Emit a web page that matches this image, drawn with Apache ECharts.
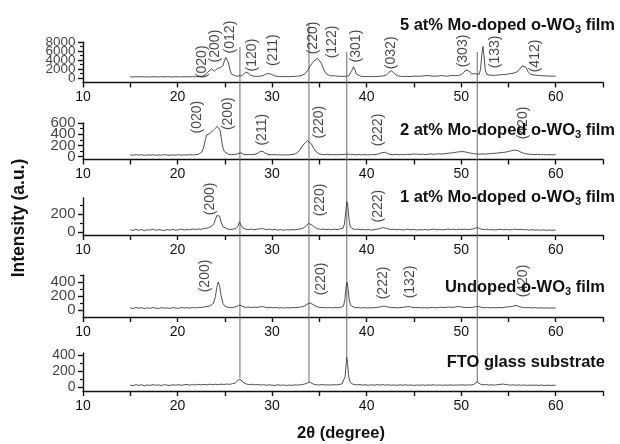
<!DOCTYPE html>
<html>
<head>
<meta charset="utf-8">
<script src="https://cdn.jsdelivr.net/npm/echarts@6/dist/echarts.min.js"></script>
<style>
  html, body { margin: 0; padding: 0; background: #fff; }
  #chart { width: 620px; height: 444px; }
</style>
</head>
<body>
<div id="chart"></div>
<script>
// ---- XRD patterns: [2θ (degree), intensity (a.u.)] ----
const mo5Pattern = [[15.0,260],[15.3,220],[15.6,280],[15.9,240],[16.2,300],[16.5,230],[16.8,270],[17.1,210],[17.4,290],[17.7,250],[18.0,230],[18.3,280],[18.6,240],[18.9,300],[19.2,250],[19.5,220],[19.8,290],[20.1,260],[20.4,240],[20.7,300],[21.0,270],[21.3,250],[21.6,300],[21.9,280],[22.2,340],[22.5,380],[22.8,520],[23.0,800],[23.2,1300],[23.4,1700],[23.6,2000],[23.75,1900],[23.9,1500],[24.05,1700],[24.2,2100],[24.35,1800],[24.5,2300],[24.65,2000],[24.8,2700],[24.95,3800],[25.1,4600],[25.25,4500],[25.4,3300],[25.55,1800],[25.7,900],[25.9,550],[26.2,420],[26.5,450],[26.8,520],[27.0,800],[27.2,1300],[27.35,1450],[27.5,1100],[27.7,650],[28.0,420],[28.3,360],[28.6,380],[28.9,450],[29.2,700],[29.5,1000],[29.7,1050],[29.9,850],[30.2,520],[30.5,380],[30.8,320],[31.1,300],[31.4,330],[31.7,290],[32.0,320],[32.3,350],[32.6,380],[32.9,450],[33.2,600],[33.5,1000],[33.8,1800],[34.0,2500],[34.2,3200],[34.4,3700],[34.6,4100],[34.8,4400],[35.0,4200],[35.2,3300],[35.4,2200],[35.6,1300],[35.8,800],[36.0,550],[36.2,480],[36.4,600],[36.6,500],[36.9,420],[37.2,380],[37.5,360],[37.8,380],[38.1,450],[38.3,800],[38.45,1700],[38.6,2500],[38.75,1900],[38.9,900],[39.1,500],[39.4,380],[39.7,340],[40.0,320],[40.3,350],[40.6,300],[40.9,330],[41.2,360],[41.5,400],[41.8,480],[42.1,700],[42.35,1200],[42.6,1600],[42.85,1200],[43.1,650],[43.4,420],[43.7,360],[44.0,330],[44.3,350],[44.6,320],[44.9,380],[45.2,420],[45.5,380],[45.8,420],[46.1,500],[46.4,560],[46.7,480],[47.0,420],[47.3,400],[47.6,450],[47.9,550],[48.2,450],[48.5,420],[48.8,480],[49.1,600],[49.4,500],[49.7,560],[50.0,750],[50.25,1200],[50.5,1800],[50.7,2100],[50.9,1500],[51.1,900],[51.3,800],[51.5,950],[51.7,750],[51.9,800],[52.05,2000],[52.2,5500],[52.3,7000],[52.4,5200],[52.55,1800],[52.7,800],[52.9,620],[53.2,580],[53.5,600],[53.8,650],[54.1,700],[54.4,750],[54.7,800],[55.0,900],[55.3,1000],[55.6,1100],[55.9,1400],[56.2,2000],[56.45,2700],[56.65,2900],[56.85,2400],[57.05,1500],[57.3,900],[57.6,700],[57.9,620],[58.2,560],[58.5,520],[58.8,480],[59.1,450],[59.4,420],[59.7,400],[60.0,390]];

const mo2Pattern = [[15.0,32],[15.3,25],[15.6,38],[15.9,28],[16.2,35],[16.5,22],[16.8,33],[17.1,27],[17.4,36],[17.7,24],[18.0,31],[18.3,26],[18.6,37],[18.9,29],[19.2,23],[19.5,34],[19.8,27],[20.1,36],[20.4,25],[20.7,32],[21.0,28],[21.3,38],[21.6,30],[21.9,36],[22.2,42],[22.4,55],[22.6,90],[22.8,190],[22.95,310],[23.1,390],[23.25,360],[23.4,410],[23.5,380],[23.65,450],[23.8,420],[23.9,490],[24.05,470],[24.2,540],[24.35,560],[24.5,470],[24.65,300],[24.8,160],[24.95,90],[25.1,60],[25.4,42],[25.7,36],[26.0,40],[26.3,48],[26.5,62],[26.65,72],[26.8,52],[27.0,40],[27.3,34],[27.6,40],[27.9,36],[28.2,44],[28.5,62],[28.75,95],[28.9,105],[29.05,90],[29.3,58],[29.6,40],[29.9,33],[30.2,38],[30.5,30],[30.8,35],[31.1,28],[31.4,34],[31.7,30],[32.0,38],[32.3,44],[32.6,62],[32.9,110],[33.2,190],[33.5,250],[33.75,285],[33.95,275],[34.15,230],[34.4,150],[34.7,80],[35.0,50],[35.3,40],[35.6,36],[35.9,42],[36.2,34],[36.5,38],[36.8,33],[37.1,40],[37.4,36],[37.7,42],[37.9,68],[38.05,45],[38.3,36],[38.6,40],[38.9,33],[39.2,38],[39.5,32],[39.8,37],[40.1,30],[40.4,38],[40.7,35],[41.0,42],[41.3,50],[41.6,72],[41.8,92],[42.0,78],[42.25,52],[42.5,40],[42.8,36],[43.1,42],[43.4,34],[43.7,40],[44.0,35],[44.3,44],[44.6,38],[44.9,48],[45.1,58],[45.3,45],[45.6,40],[45.9,46],[46.2,38],[46.5,44],[46.8,50],[47.1,42],[47.4,48],[47.7,52],[48.0,46],[48.3,55],[48.6,60],[48.9,66],[49.2,72],[49.5,80],[49.8,88],[50.0,95],[50.2,90],[50.5,82],[50.8,70],[51.1,60],[51.4,52],[51.7,48],[52.0,44],[52.3,50],[52.6,46],[52.9,52],[53.2,56],[53.5,60],[53.8,64],[54.1,70],[54.4,76],[54.7,82],[55.0,92],[55.3,105],[55.6,118],[55.8,122],[56.0,108],[56.3,82],[56.6,62],[56.9,50],[57.2,44],[57.5,40],[57.8,36],[58.1,42],[58.4,35],[58.7,39],[59.0,33],[59.3,38],[59.6,32],[60.0,36]];

const mo1Pattern = [[15.0,28],[15.3,20],[15.6,33],[15.9,22],[16.2,30],[16.5,18],[16.8,29],[17.1,24],[17.4,35],[17.7,21],[18.0,30],[18.3,25],[18.6,19],[18.9,31],[19.2,24],[19.5,33],[19.8,22],[20.1,29],[20.4,36],[20.7,25],[21.0,31],[21.3,27],[21.6,37],[21.9,30],[22.2,38],[22.5,33],[22.8,42],[23.1,45],[23.4,55],[23.6,62],[23.8,85],[24.0,140],[24.15,185],[24.3,205],[24.45,180],[24.6,115],[24.8,62],[25.0,44],[25.3,36],[25.6,30],[25.9,35],[26.2,42],[26.4,70],[26.55,115],[26.7,82],[26.9,48],[27.2,35],[27.5,30],[27.8,36],[28.1,28],[28.4,34],[28.7,40],[28.9,55],[29.1,38],[29.4,30],[29.7,35],[30.0,26],[30.3,32],[30.6,24],[30.9,30],[31.2,22],[31.5,29],[31.8,25],[32.1,31],[32.4,27],[32.7,34],[33.0,38],[33.3,48],[33.6,70],[33.85,98],[34.05,104],[34.25,80],[34.5,55],[34.8,40],[35.1,32],[35.4,36],[35.7,30],[36.0,34],[36.3,28],[36.6,35],[36.9,30],[37.2,38],[37.5,45],[37.65,90],[37.8,230],[37.9,340],[38.0,300],[38.12,160],[38.25,70],[38.45,42],[38.7,32],[39.0,36],[39.3,28],[39.6,33],[39.9,26],[40.2,31],[40.5,24],[40.8,30],[41.1,35],[41.4,40],[41.65,52],[41.85,58],[42.05,45],[42.3,36],[42.6,30],[42.9,34],[43.2,27],[43.5,32],[43.8,25],[44.1,30],[44.4,34],[44.7,27],[45.0,31],[45.3,24],[45.6,30],[45.9,26],[46.2,32],[46.5,25],[46.8,30],[47.1,35],[47.4,27],[47.7,32],[48.0,26],[48.3,31],[48.6,36],[48.9,30],[49.2,34],[49.5,28],[49.8,35],[50.1,30],[50.4,36],[50.7,29],[51.0,33],[51.3,38],[51.55,50],[51.7,62],[51.85,48],[52.1,36],[52.4,30],[52.7,34],[53.0,27],[53.3,31],[53.6,25],[53.9,30],[54.2,34],[54.5,28],[54.8,32],[55.1,26],[55.4,31],[55.7,35],[56.0,29],[56.3,33],[56.6,27],[56.9,30],[57.2,24],[57.5,29],[57.8,23],[58.1,28],[58.4,22],[58.7,27],[59.0,21],[59.3,26],[59.6,22],[60.0,25]];

const undopedPattern = [[15.0,30],[15.3,22],[15.6,35],[15.9,26],[16.2,32],[16.5,21],[16.8,31],[17.1,25],[17.4,34],[17.7,27],[18.0,22],[18.3,33],[18.6,26],[18.9,30],[19.2,23],[19.5,34],[19.8,28],[20.1,24],[20.4,35],[20.7,29],[21.0,33],[21.3,26],[21.6,36],[21.9,30],[22.2,38],[22.5,34],[22.8,44],[23.1,48],[23.4,58],[23.6,64],[23.8,95],[24.0,190],[24.15,320],[24.3,400],[24.45,350],[24.6,210],[24.8,95],[25.0,55],[25.3,40],[25.6,34],[25.9,38],[26.2,46],[26.45,68],[26.6,88],[26.75,62],[26.95,44],[27.2,36],[27.5,42],[27.8,35],[28.1,40],[28.4,36],[28.7,44],[28.95,50],[29.2,40],[29.5,34],[29.8,38],[30.1,31],[30.4,36],[30.7,29],[31.0,34],[31.3,28],[31.6,33],[31.9,30],[32.2,36],[32.5,32],[32.8,38],[33.1,44],[33.4,56],[33.7,80],[33.95,102],[34.15,100],[34.4,75],[34.65,52],[34.9,40],[35.2,34],[35.5,38],[35.8,31],[36.1,36],[36.4,30],[36.7,35],[37.0,32],[37.3,40],[37.55,55],[37.7,150],[37.82,330],[37.92,400],[38.02,320],[38.15,150],[38.3,65],[38.5,40],[38.8,32],[39.1,36],[39.4,29],[39.7,34],[40.0,28],[40.3,33],[40.6,30],[40.9,36],[41.2,38],[41.5,46],[41.8,56],[42.05,50],[42.3,40],[42.6,33],[42.9,37],[43.2,30],[43.5,35],[43.8,38],[44.1,42],[44.4,50],[44.65,45],[44.9,36],[45.2,32],[45.5,37],[45.8,30],[46.1,35],[46.4,29],[46.7,33],[47.0,38],[47.3,31],[47.6,36],[47.9,40],[48.2,34],[48.5,38],[48.8,42],[49.1,37],[49.4,44],[49.7,50],[50.0,45],[50.3,38],[50.6,34],[50.9,38],[51.2,36],[51.5,48],[51.7,64],[51.9,46],[52.2,36],[52.5,32],[52.8,36],[53.1,30],[53.4,35],[53.7,31],[54.0,36],[54.3,33],[54.6,40],[54.9,44],[55.2,48],[55.5,55],[55.8,65],[56.05,52],[56.3,42],[56.6,36],[56.9,32],[57.2,36],[57.5,29],[57.8,34],[58.1,28],[58.4,32],[58.7,27],[59.0,31],[59.3,26],[59.6,30],[60.0,28]];

const ftoPattern = [[15.0,25],[15.3,18],[15.6,30],[15.9,22],[16.2,28],[16.5,16],[16.8,27],[17.1,20],[17.4,31],[17.7,22],[18.0,27],[18.3,18],[18.6,30],[18.9,24],[19.2,20],[19.5,29],[19.8,23],[20.1,31],[20.4,22],[20.7,28],[21.0,33],[21.3,24],[21.6,31],[21.9,26],[22.2,34],[22.5,27],[22.8,33],[23.1,28],[23.4,36],[23.7,30],[24.0,35],[24.3,29],[24.6,37],[24.9,32],[25.2,38],[25.5,34],[25.8,42],[26.1,50],[26.3,66],[26.48,95],[26.6,110],[26.72,90],[26.9,60],[27.1,44],[27.3,37],[27.6,31],[27.9,35],[28.2,27],[28.5,32],[28.8,25],[29.1,30],[29.4,22],[29.7,28],[30.0,24],[30.3,20],[30.6,28],[30.9,23],[31.2,26],[31.5,19],[31.8,25],[32.1,21],[32.4,28],[32.7,24],[33.0,30],[33.3,34],[33.6,44],[33.8,56],[33.95,62],[34.15,48],[34.4,36],[34.7,29],[35.0,26],[35.3,31],[35.6,25],[35.9,29],[36.2,24],[36.5,30],[36.8,27],[37.1,33],[37.4,40],[37.6,62],[37.72,130],[37.82,270],[37.9,380],[37.98,300],[38.08,160],[38.2,75],[38.4,42],[38.7,31],[39.0,27],[39.3,32],[39.6,24],[39.9,29],[40.2,22],[40.5,28],[40.8,23],[41.1,30],[41.4,25],[41.7,31],[42.0,24],[42.3,29],[42.6,22],[42.9,27],[43.2,21],[43.5,28],[43.8,23],[44.1,29],[44.4,22],[44.7,27],[45.0,20],[45.3,26],[45.6,22],[45.9,28],[46.2,21],[46.5,27],[46.8,23],[47.1,29],[47.4,22],[47.7,27],[48.0,21],[48.3,26],[48.6,23],[48.9,28],[49.2,22],[49.5,27],[49.8,24],[50.1,29],[50.4,23],[50.7,28],[51.0,25],[51.3,32],[51.5,45],[51.7,65],[51.85,50],[52.05,36],[52.3,28],[52.6,32],[52.9,25],[53.2,30],[53.5,24],[53.8,29],[54.1,33],[54.4,38],[54.6,34],[54.9,28],[55.2,24],[55.5,29],[55.8,22],[56.1,27],[56.4,21],[56.7,26],[57.0,20],[57.3,25],[57.6,21],[57.9,26],[58.2,20],[58.5,25],[58.8,19],[59.1,24],[59.4,20],[59.7,23],[60.0,21]];

// ---- Miller-index annotations: [2θ, intensity at label centre, text] ----
const mo5Peaks = [[22.55,3600,'(020)'],[24.0,7100,'(200)'],[25.6,9100,'(012)'],[27.9,5100,'(120)'],[30.1,6200,'(211)'],[34.3,8900,'(220)'],[36.3,8000,'(122)'],[38.9,7100,'(301)'],[42.6,5600,'(032)'],[50.2,6000,'(303)'],[53.6,5800,'(133)'],[57.8,4900,'(412)']];
const mo2Peaks = [[22.1,705,'(020)'],[25.4,765,'(200)'],[29.0,480,'(211)'],[35.0,615,'(220)'],[41.2,475,'(222)'],[56.6,600,'(420)']];
const mo1Peaks = [[23.4,370,'(200)'],[35.05,358,'(220)'],[41.2,290,'(222)']];
const undopedPeaks = [[22.95,486,'(200)'],[35.2,443,'(220)'],[41.7,386,'(222)'],[44.6,400,'(132)'],[56.6,414,'(420)']];
const ftoPeaks = [];

// ---- Axis ticks ----
const angleTicks = [10, 20, 30, 40, 50, 60];
const mo5Ticks = [0, 2000, 4000, 6000, 8000];
const mo5MinorTicks = [1000, 3000, 5000, 7000];
const mo2Ticks = [0, 200, 400, 600];
const mo2MinorTicks = [100, 300, 500];
const mo1Ticks = [0, 200];
const mo1MinorTicks = [100, 300];
const undopedTicks = [0, 200, 400];
const undopedMinorTicks = [100, 300, 500];
const ftoTicks = [0, 200, 400];
const ftoMinorTicks = [100, 300];

// Diffraction lines of the FTO substrate carried through all patterns
const substrateLines = [26.6, 33.9, 37.9, 51.7];

// ---- Layout ----
const FONT = '"Liberation Sans", Arial, Helvetica, sans-serif';
const INK = '#111';
const PLOT_LEFT = 83, PLOT_RIGHT = 17;
const X_MIN = 10, X_MAX = 65;

const panels = [
  { data: mo5Pattern, peaks: mo5Peaks, ticks: mo5Ticks, minor: mo5MinorTicks,
    top: 42, height: 40.5, min: -1000, max: 8000, tickFont: 13.5,
    title: ['5 at% Mo-doped o-WO', ' film'], titleX: 615, titleY: 25 },
  { data: mo2Pattern, peaks: mo2Peaks, ticks: mo2Ticks, minor: mo2MinorTicks,
    top: 123, height: 36.5, min: -50, max: 600, tickFont: 15,
    title: ['2 at% Mo-doped o-WO', ' film'], titleX: 615, titleY: 130 },
  { data: mo1Pattern, peaks: mo1Peaks, ticks: mo1Ticks, minor: mo1MinorTicks,
    top: 198, height: 37, min: -30, max: 380, tickFont: 15,
    title: ['1 at% Mo-doped o-WO', ' film'], titleX: 615, titleY: 197 },
  { data: undopedPattern, peaks: undopedPeaks, ticks: undopedTicks, minor: undopedMinorTicks,
    top: 275, height: 42, min: -100, max: 500, tickFont: 15,
    title: ['Undoped o-WO', ' film'], titleX: 605, titleY: 287 },
  { data: ftoPattern, peaks: ftoPeaks, ticks: ftoTicks, minor: ftoMinorTicks,
    top: 353, height: 38, min: -50, max: 430, tickFont: 14,
    title: ['FTO glass substrate'], titleX: 605, titleY: 362 }
];

// vertical extent of the substrate lines, in the overlay grid's pixel rows
const lineSpans = [[47, 378], [23, 382], [52, 357], [52, 382]];

const grids = [], xAxes = [], yAxes = [], series = [], graphics = [];

panels.forEach((p, i) => {
  grids.push({ left: PLOT_LEFT, right: PLOT_RIGHT, top: p.top, height: p.height });
  xAxes.push({
    gridIndex: i, type: 'value', min: X_MIN, max: X_MAX, interval: 5,
    axisLine: { show: true, onZero: false, lineStyle: { color: INK, width: 1.4 } },
    axisTick: { show: true, inside: false, length: 5, lineStyle: { color: INK, width: 1.4 } },
    axisLabel: { customValues: angleTicks, interval: 0, fontFamily: FONT, fontSize: 14, color: INK, margin: 8,
                 hideOverlap: false, formatter: v => String(v) },
    splitLine: { show: false }
  });
  // major ticks (labels are drawn by the tick-label series below so that
  // the tightly stacked values are all kept)
  yAxes.push({
    gridIndex: i, type: 'value', position: 'left', min: p.min, max: p.max,
    axisLine: { show: true, onZero: false, lineStyle: { color: INK, width: 1.4 } },
    axisTick: { show: true, customValues: p.ticks, length: 5, lineStyle: { color: INK, width: 1.4 } },
    axisLabel: { show: false },
    splitLine: { show: false }
  });
  // minor ticks
  yAxes.push({
    gridIndex: i, type: 'value', position: 'left', offset: 0, min: p.min, max: p.max,
    axisLine: { show: false, onZero: false },
    axisTick: { show: true, customValues: p.minor, length: 3, lineStyle: { color: INK, width: 1.2 } },
    axisLabel: { show: false },
    splitLine: { show: false }
  });
  series.push({
    type: 'line', xAxisIndex: i, yAxisIndex: 2 * i, data: p.data,
    showSymbol: false, symbol: 'none', clip: false,
    lineStyle: { color: '#3c3c3c', width: 0.9 }, z: 3
  });
  // y tick labels
  series.push({
    type: 'scatter', xAxisIndex: i, yAxisIndex: 2 * i, clip: false, silent: true,
    symbolSize: 1, itemStyle: { color: 'rgba(0,0,0,0)' },
    data: p.ticks.map(v => [X_MIN, v]),
    label: {
      show: true, position: 'left', distance: 7, formatter: d => String(d.value[1]),
      fontFamily: FONT, fontSize: p.tickFont, color: INK
    },
    labelLayout: { hideOverlap: false },
    z: 5
  });
  if (p.peaks.length) {
    series.push({
      type: 'scatter', xAxisIndex: i, yAxisIndex: 2 * i, clip: false, silent: true,
      symbolSize: 1, itemStyle: { color: 'rgba(0,0,0,0)' },
      data: p.peaks.map(d => ({ value: [d[0], d[1]], name: d[2] })),
      label: {
        show: true, formatter: '{b}', position: 'inside', rotate: 90,
        fontFamily: FONT, fontSize: 14, color: '#1a1a1a'
      },
      labelLayout: { hideOverlap: false },
      z: 4
    });
  }
  const rich = {
    m: { fontFamily: FONT, fontSize: 16.5, fontWeight: 'bold', fill: INK, lineHeight: 20 },
    s: { fontFamily: FONT, fontSize: 11, fontWeight: 'bold', fill: INK, lineHeight: 9, verticalAlign: 'bottom' }
  };
  const text = p.title.length > 1
    ? '{m|' + p.title[0] + '}{s|3}{m|' + p.title[1] + '}'
    : '{m|' + p.title[0] + '}';
  graphics.push({
    type: 'text', z: 20,
    x: p.titleX, y: p.titleY,
    style: { text: text, rich: rich, align: 'right', verticalAlign: 'middle' }
  });
});

// overlay grid spanning the whole canvas for the substrate reference lines
const ov = panels.length;
grids.push({ left: PLOT_LEFT, right: PLOT_RIGHT, top: 0, height: 444 });
xAxes.push({ gridIndex: ov, type: 'value', min: X_MIN, max: X_MAX, show: false });
yAxes.push({ gridIndex: ov, type: 'value', min: 0, max: 444, inverse: true, show: false });
substrateLines.forEach((a, k) => {
  series.push({
    type: 'line', xAxisIndex: ov, yAxisIndex: yAxes.length - 1,
    data: [[a, lineSpans[k][0]], [a, lineSpans[k][1]]],
    symbol: 'none', lineStyle: { color: '#6a6a6a', width: 1 }, z: 2, silent: true
  });
});

// axis titles
graphics.push({
  type: 'text', x: 19, y: 218, rotation: Math.PI / 2, z: 20,
  style: { text: 'Intensity (a.u.)', font: 'bold 17.5px ' + FONT, fill: INK, align: 'center', verticalAlign: 'middle' }
});
graphics.push({
  type: 'text', x: 341, y: 433, z: 20,
  style: { text: '2θ (degree)', font: 'bold 16.5px ' + FONT, fill: INK, align: 'center', verticalAlign: 'middle' }
});

const chart = echarts.init(document.getElementById('chart'), null, { renderer: 'canvas' });
chart.setOption({
  animation: false,
  backgroundColor: '#fff',
  grid: grids,
  xAxis: xAxes,
  yAxis: yAxes,
  series: series,
  graphic: graphics
});
</script>
</body>
</html>
